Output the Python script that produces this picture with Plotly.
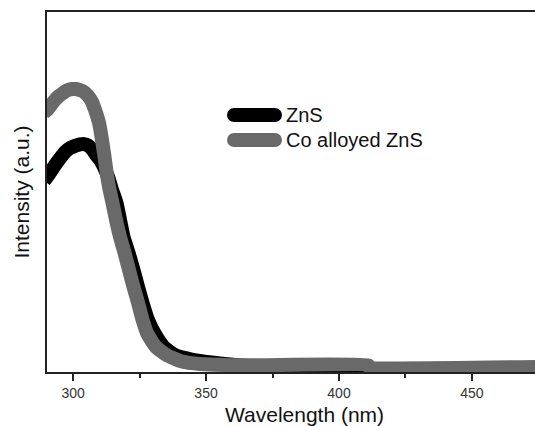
import plotly.graph_objects as go

# ---- data ----
wl_zns = [289.10, 290.23, 291.73, 293.23, 295.11, 297.00, 298.87, 300.75, 302.63, 304.14,
          305.64, 307.14, 308.65, 310.15, 311.65, 313.16, 314.66, 316.35, 317.67, 318.98,
          320.86, 322.74, 324.44, 326.13, 328.20, 331.20, 334.21, 338.35, 346.24, 355.26,
          366.54, 410.90, 411.28, 473.68]
int_zns = [0.531, 0.542, 0.558, 0.575, 0.594, 0.611, 0.622, 0.628, 0.632, 0.633,
           0.629, 0.619, 0.603, 0.589, 0.569, 0.542, 0.506, 0.469, 0.422, 0.375,
           0.331, 0.283, 0.236, 0.192, 0.144, 0.100, 0.069, 0.047, 0.032, 0.024,
           0.017, 0.016, 0.011, 0.011]

wl_co = [289.10, 290.23, 291.73, 293.23, 294.74, 296.24, 297.74, 299.62, 301.13, 302.63,
         304.14, 305.64, 307.14, 308.27, 309.02, 309.77, 310.90, 311.84, 312.59, 313.53,
         314.85, 316.17, 317.67, 319.36, 321.05, 322.74, 324.44, 325.94, 327.82, 331.01,
         335.15, 340.98, 347.74, 359.02, 370.30, 410.90, 411.28, 473.68]
int_co = [0.722, 0.728, 0.742, 0.756, 0.767, 0.775, 0.782, 0.786, 0.786, 0.783,
          0.778, 0.767, 0.750, 0.728, 0.711, 0.692, 0.644, 0.597, 0.556, 0.514,
          0.469, 0.422, 0.375, 0.331, 0.283, 0.236, 0.192, 0.150, 0.108, 0.071,
          0.047, 0.029, 0.022, 0.019, 0.019, 0.019, 0.014, 0.014]

names = ["ZnS", "Co alloyed ZnS"]
colors = ["#000000", "#696969"]
x_ticks = [300, 350, 400, 450]
x_minor = [325, 375, 425]

FONT = "Liberation Sans, Arial, sans-serif"

fig = go.Figure()
fig.add_trace(go.Scatter(x=wl_zns, y=int_zns, mode="lines", name=names[0],
                         line=dict(color=colors[0], width=14, shape="spline", smoothing=0.5),
                         showlegend=False))
fig.add_trace(go.Scatter(x=wl_co, y=int_co, mode="lines", name=names[1],
                         line=dict(color=colors[1], width=14, shape="spline", smoothing=0.5),
                         showlegend=False))

# ---- custom legend (thick rounded line symbols) ----
W, H = 535, 426
L, R, T, B = 47, 0, 12, 54
pw, ph = W - L - R, H - T - B


def px2paper(px, py):
    return (px - L) / pw, (H - B - py) / ph


shapes = []
annotations = []
for i, (nm, col) in enumerate(zip(names, colors)):
    cy = 115 + i * 25
    x0, x1 = 234, 275
    r = 7
    ax0, ay0 = px2paper(x0, cy + r)
    ax1, ay1 = px2paper(x1, cy - r)
    shapes.append(dict(type="rect", xref="paper", yref="paper", x0=ax0, x1=ax1, y0=ay0, y1=ay1,
                       fillcolor=col, line=dict(width=0), layer="above"))
    for cx in (x0, x1):
        c0x, c0y = px2paper(cx - r, cy + r)
        c1x, c1y = px2paper(cx + r, cy - r)
        shapes.append(dict(type="circle", xref="paper", yref="paper", x0=c0x, x1=c1x, y0=c0y, y1=c1y,
                           fillcolor=col, line=dict(width=0), layer="above"))
    tx, ty = px2paper(284, cy)
    annotations.append(dict(text=nm, xref="paper", yref="paper", x=tx, y=ty,
                            xanchor="left", yanchor="middle", showarrow=False,
                            font=dict(family=FONT, size=20, color="#111111")))

# x-axis title (placed slightly right of centre as in the original)
tx, ty = px2paper(304, 414)
annotations.append(dict(text="Wavelength (nm)", xref="paper", yref="paper", x=tx, y=ty,
                        xanchor="center", yanchor="middle", showarrow=False,
                        font=dict(family=FONT, size=21, color="#111111")))

fig.update_layout(
    width=W, height=H,
    margin=dict(l=L, r=R, t=T, b=B),
    paper_bgcolor="white", plot_bgcolor="white",
    font=dict(family=FONT, color="#222222"),
    shapes=shapes, annotations=annotations,
    showlegend=False,
)
fig.update_xaxes(
    range=[290.2, 473.7],
    tickvals=x_ticks, ticktext=[str(v) for v in x_ticks],
    ticks="outside", ticklen=7, tickwidth=1.5, tickcolor="#222222",
    minor=dict(ticks="outside", ticklen=4, tickwidth=1.5, tickcolor="#222222",
               tickvals=x_minor),
    tickfont=dict(size=14, color="#333333"),
    showline=True, linecolor="#222222", linewidth=1.5, mirror=True,
    showgrid=False, zeroline=False,
)
fig.update_yaxes(
    range=[0, 1],
    showticklabels=False, ticks="",
    showline=True, linecolor="#222222", linewidth=1.5,
    showgrid=False, zeroline=False,
    title=dict(text="Intensity (a.u.)", font=dict(size=21, color="#111111"), standoff=10),
)

fig.write_html("out.html")
